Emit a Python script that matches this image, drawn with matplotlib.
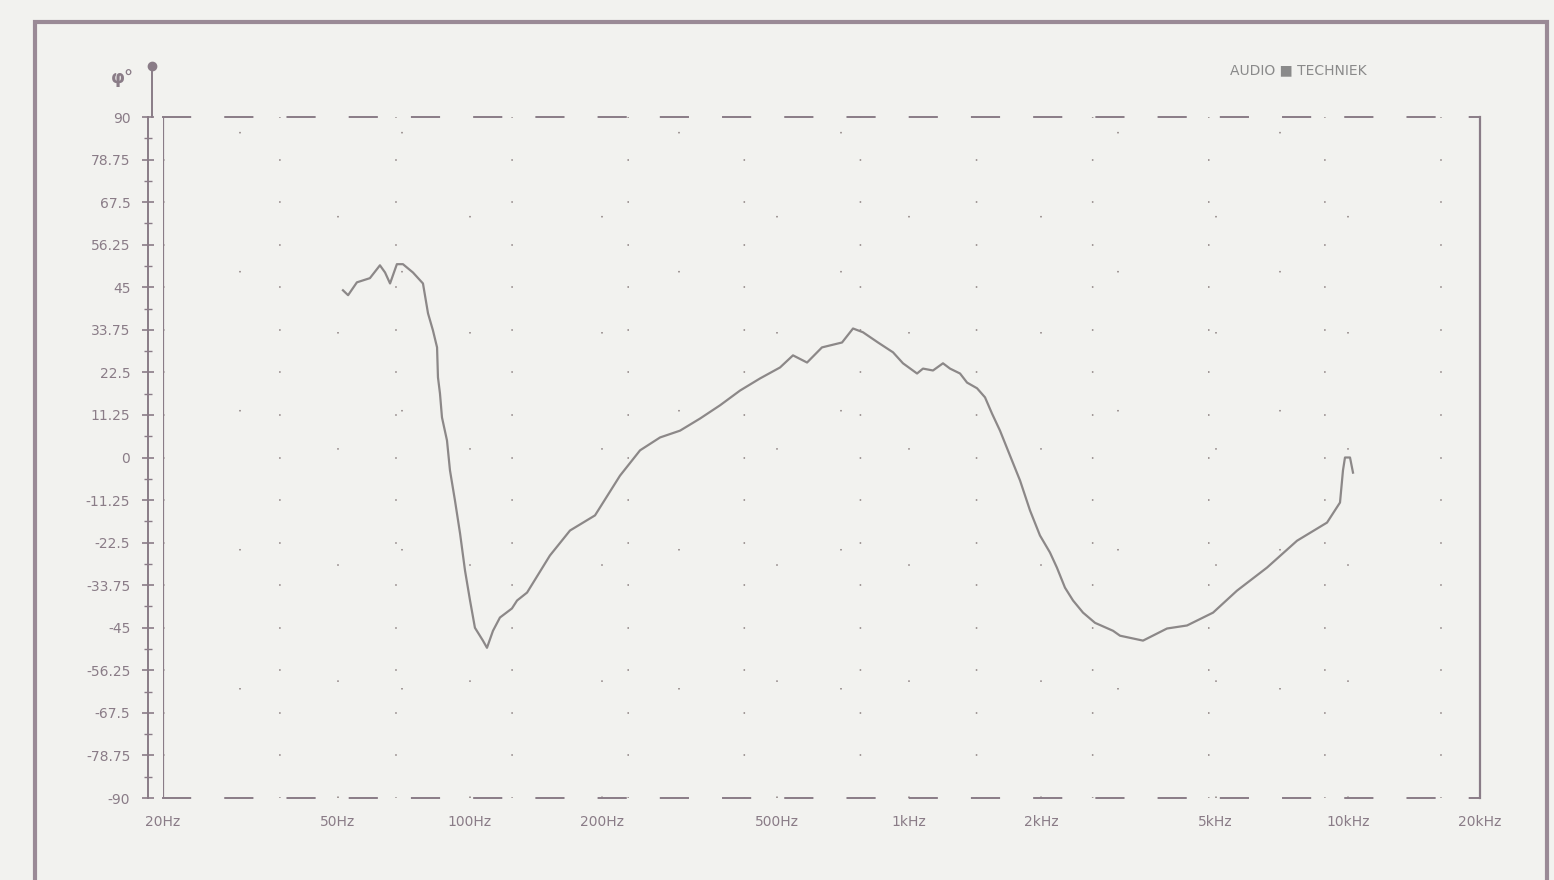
import matplotlib

matplotlib.use("Agg")
import matplotlib.pyplot as plt
from matplotlib.patches import Rectangle
from matplotlib.lines import Line2D

# phase response (frequency in Hz, phase in degrees)
freq_hz = [51.4, 52.8, 55.3, 59.2, 62.4, 64.1, 65.8, 68.2, 70.4, 74.2,
           78.2, 80.3, 82.4, 84.2, 84.6, 85.5, 86.4, 88.7, 90.1, 92.5,
           95.0, 97.5, 100.1, 102.7, 107.1, 109.4, 112.9, 117.1, 124.7, 128.1,
           135.0, 152.2, 169.1, 192.8, 219.8, 244.2, 271.2, 301.2, 334.5, 371.5,
           412.6, 458.2, 508.9, 544.6, 586.3, 634.0, 704.4, 746.2, 786.2, 850.6,
           920.4, 969.7, 1044, 1077, 1135, 1196, 1241, 1308, 1357, 1430,
           1491, 1547, 1613, 1700, 1792, 1888, 1989, 2096, 2174, 2268,
           2366, 2493, 2655, 2918, 3027, 3415, 3873, 4302, 4932, 5590,
           6544, 7660, 8966, 9597, 9748, 9851, 10114, 10274]
phase_deg = [44.2, 42.9, 46.3, 47.4, 50.8, 48.9, 46.0, 51.1, 51.1, 48.9,
             46.0, 38.1, 33.6, 29.1, 21.2, 16.9, 10.6, 4.5, -3.4, -11.4,
             -20.1, -29.9, -37.8, -45.0, -48.4, -50.3, -45.8, -42.3, -39.9, -37.8,
             -35.7, -25.9, -19.3, -15.3, -4.8, 1.9, 5.3, 7.1, 10.3, 13.8,
             17.7, 20.9, 23.8, 27.0, 25.1, 29.1, 30.4, 34.1, 33.1, 30.4,
             27.8, 24.9, 22.2, 23.5, 23.0, 24.9, 23.5, 22.2, 19.8, 18.3,
             15.9, 11.6, 7.1, 0.5, -6.1, -14.0, -20.6, -25.1, -29.1, -34.4,
             -37.8, -41.0, -43.7, -45.8, -47.1, -48.4, -45.2, -44.4, -41.0, -35.2,
             -29.1, -22.0, -17.2, -11.9, -3.4, 0.0, 0.0, -4.0]

x_ticks = [20, 50, 100, 200, 500, 1000, 2000, 5000, 10000, 20000]
x_labels = ["20Hz", "50Hz", "100Hz", "200Hz", "500Hz", "1kHz", "2kHz",
            "5kHz", "10kHz", "20kHz"]
y_ticks = [90, 78.75, 67.5, 56.25, 45, 33.75, 22.5, 11.25, 0,
           -11.25, -22.5, -33.75, -45, -56.25, -67.5, -78.75, -90]
y_labels = ["90", "78.75", "67.5", "56.25", "45", "33.75", "22.5", "11.25", "0",
            "-11.25", "-22.5", "-33.75", "-45", "-56.25", "-67.5", "-78.75", "-90"]

BG = "#f2f2ef"
INK = "#8a7c87"
TRACE = "#8c8888"
W, H = 1554, 880

fig = plt.figure(figsize=(W / 100, H / 100), dpi=100, facecolor=BG)
ax = fig.add_axes([163 / W, 1 - 798 / H, (1480 - 163) / W, (798 - 117) / H])
ax.set_facecolor(BG)

ax.plot(freq_hz, phase_deg, color=TRACE, lw=1.6, solid_joinstyle="round")

ax.set_xscale("log")
ax.set_xlim(20, 20000)
ax.set_ylim(-90, 90)

# very sparse dotted grid, like the plotter output
ax.set_xticks(x_ticks)
ax.set_xticklabels(x_labels)
ax.set_xticks([30, 70, 300, 700, 3000, 7000], minor=True)
ax.set_yticks(y_ticks)
ax.set_yticklabels(y_labels)
ax.set_yticks([v + 5.625 for v in y_ticks[1:]], minor=True)
ax.grid(True, which="major", color="#8c8080", lw=1.1, ls=(0, (1, 75)))
ax.grid(True, which="minor", axis="x", color="#8c8080", lw=1.1, ls=(20, (1, 90)))

ax.tick_params(axis="x", which="both", length=0, pad=12, labelsize=10,
               labelcolor=INK)
ax.tick_params(axis="y", which="major", direction="inout", length=9, width=1.2,
               color=INK, labelsize=10, labelcolor=INK, pad=8)
ax.tick_params(axis="y", which="minor", direction="inout", length=6, width=1.0,
               color=INK)

# spines: y axis pulled out to the left, dashed top/bottom
ax.spines["left"].set_position(("outward", 11))
ax.spines["left"].set_color(INK)
ax.spines["left"].set_linewidth(1.4)
ax.spines["right"].set_color(INK)
ax.spines["right"].set_linewidth(1.6)
for side in ("top", "bottom"):
    ax.spines[side].set_color(INK)
    ax.spines[side].set_linewidth(1.4)
    ax.spines[side].set_linestyle((0, (14, 18)))
ax.axvline(20, color=INK, lw=1.6)

# y axis continues up to a dot, with the phase symbol beside it
fig.add_artist(Line2D([152 / W, 152 / W], [1 - 117 / H, 1 - 68 / H],
                      transform=fig.transFigure, color=INK, lw=1.4))
fig.add_artist(Line2D([152 / W], [1 - 66 / H], transform=fig.transFigure,
                      marker="o", ms=6, color=INK))
fig.text(122 / W, 1 - 78 / H, "φ°", fontsize=13, color=INK, ha="center",
         va="center", fontweight="bold")

# outer frame of the printout
fig.add_artist(Rectangle((35 / W, -0.02), (1547 - 35) / W, 1.02 - 22 / H,
                         transform=fig.transFigure, fill=False,
                         edgecolor="#9a8a96", lw=3))

fig.text(1298 / W, 1 - 70 / H, "AUDIO ■ TECHNIEK", fontsize=10, color="#8a8a8a",
         ha="center", va="center")

fig.savefig("out.png", dpi=100, facecolor=BG)
